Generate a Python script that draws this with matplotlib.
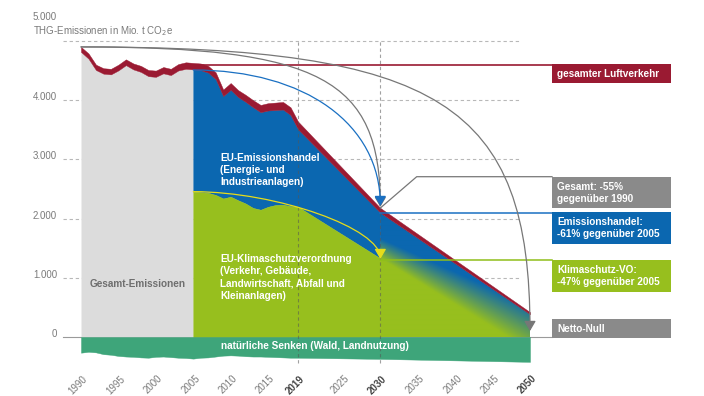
import numpy as np
import matplotlib.pyplot as plt
from matplotlib.patches import Polygon, Rectangle, FancyArrowPatch
from matplotlib.path import Path

plt.rcParams['font.family'] = ['Liberation Sans', 'DejaVu Sans']

# --- data (Mio. t CO2e) ---
years = list(range(1990, 2020))
total = [4900, 4790, 4600, 4540, 4530, 4600, 4690, 4620, 4580, 4510,
         4500, 4560, 4530, 4610, 4640, 4630, 4620, 4580, 4470, 4180,
         4290, 4170, 4090, 4000, 3920, 3950, 3960, 3970, 3880, 3640]
aviation = [85, 88, 90, 92, 94, 96, 98, 100, 102, 104,
            106, 106, 106, 108, 110, 110, 112, 114, 114, 110,
            114, 116, 118, 120, 122, 124, 126, 128, 130, 130]
esr_years = list(range(2005, 2020))
esr = [2455, 2445, 2435, 2400, 2340, 2370, 2310, 2255, 2180, 2150,
       2200, 2230, 2235, 2210, 2200]
sinks = [-265, -250, -260, -290, -300, -320, -330, -335, -345, -350,
         -335, -330, -340, -350, -355, -365, -350, -345, -330, -315,
         -310, -315, -325, -330, -330, -335, -340, -345, -350, -350]
target_years = [2030, 2050]
target_total = [2180, 420]
target_aviation = [80, 35]
target_esr = 1330
target_sinks = [-370, -420]

tick_years = [1990, 1995, 2000, 2005, 2010, 2015, 2019, 2025, 2030, 2035, 2040, 2045, 2050]
bold_years = [2019, 2030, 2050]
y_ticks = [0, 1000, 2000, 3000, 4000, 5000]

# colours
GREY_AREA = '#dcdcdc'
RED = '#9a1a32'
BLUE = '#0b67b0'
GREEN = '#97bf1e'
SINK = '#3ea57a'
BOX_GREY = '#8a8a8a'
LINE_GREY = '#777777'
TXT_GREY = '#7a7a7a'

# pixel calibration of the reference (1990 -> 81px, 2050 -> 530px, 0 -> 337px, 5000 -> 41px)
W, H = 704, 396
PX_YEAR = 449 / 60
PX_UNIT = 296 / 5000


def fx(x):
    return 1990 + (x - 81) / PX_YEAR


def fy(y):
    return (337 - y) / PX_UNIT


fig = plt.figure(figsize=(W / 100, H / 100), dpi=100)
ax = fig.add_axes([0, 0, 1, 1])
ax.set_xlim(fx(0), fx(W))
ax.set_ylim(fy(H), fy(0))
ax.axis('off')

all_years = np.array(years + target_years, dtype=float)
all_total = np.array(total + target_total, dtype=float)
all_avi = np.array(aviation + target_aviation, dtype=float)
all_sinks = np.array(sinks + target_sinks, dtype=float)
base_top = all_total - all_avi

BOX_X0, BOX_X1 = fx(552), fx(671)

# grid
for v in y_ticks[1:]:
    ax.plot([fx(63), fx(520)], [v, v], color='#b8b8b8', lw=0.8, ls=(0, (3, 2.5)), zorder=0)
ax.plot([fx(63), BOX_X0], [0, 0], color='#9a9a9a', lw=0.8, zorder=1)

# areas
i05 = years.index(2005)
ax.fill_between(all_years[:i05 + 1], 0, base_top[:i05 + 1], color=GREY_AREA, lw=0, zorder=2)

seg_x = np.array(esr_years + [2030], dtype=float)
seg_esr = np.array(esr + [target_esr], dtype=float)
seg_top = base_top[i05:i05 + len(seg_x)]
ax.fill_between(seg_x, seg_esr, seg_top, color=BLUE, lw=0.3, ec=BLUE, zorder=2)
ax.fill_between(seg_x, 0, seg_esr, color=GREEN, lw=0.3, ec=GREEN, zorder=2)

# gradient 2030 -> 2050, blue along the upper edge fading into green
t30, t50 = base_top[-2], base_top[-1]
gx = np.linspace(2030, 2050, 300)
gy = np.linspace(0, t30, 300)
GX, GY = np.meshgrid(gx, gy)
tt = (GX - 2030) / 20
depth = (np.interp(GX, [2030, 2050], [t30, t50]) - GY) * PX_UNIT  # px below upper edge
d0 = 26 - 35 * tt
wd = 20 + 25 * tt
s = np.clip(1 - (depth - d0) / wd, 0, 1)
c_blue = np.array([11, 103, 176]) / 255
c_green = np.array([151, 191, 30]) / 255
rgb = c_green[None, None, :] * (1 - s[..., None]) + c_blue[None, None, :] * s[..., None]
im = ax.imshow(rgb, extent=[2030, 2050, 0, t30], origin='lower', aspect='auto',
               interpolation='bilinear', zorder=2)
clip = Polygon([(2030, 0), (2030, t30), (2050, t50), (2050, 0)], closed=True,
               fc='none', ec='none', transform=ax.transData)
ax.add_patch(clip)
im.set_clip_path(clip)
ax.set_xlim(fx(0), fx(W))
ax.set_ylim(fy(H), fy(0))

ax.fill_between(all_years, base_top, all_total, color=RED, lw=0.3, ec=RED, zorder=3)
ax.fill_between(all_years, all_sinks, 0, color=SINK, lw=0.3, ec=SINK, zorder=3)

# vertical markers
for yr in [2019, 2030]:
    ax.plot([yr, yr], [fy(363), 5000], color='#555555', alpha=0.55, lw=0.8,
            ls=(0, (3, 2.5)), zorder=4)


def arc(x0, y0, x1, y1, k, color):
    verts = [(x0, y0), (x0 + k * (x1 - x0), y0), (x1, y1 + k * (y0 - y1)), (x1, y1)]
    p = Path(verts, [Path.MOVETO, Path.CURVE4, Path.CURVE4, Path.CURVE4])
    ax.add_patch(FancyArrowPatch(path=p, arrowstyle='-|>,head_length=0.6,head_width=0.35',
                                 mutation_scale=10, color=color, lw=0.9,
                                 shrinkA=0, shrinkB=0, zorder=6))


arc(1990, total[0], 2050, fy(331), 0.8, LINE_GREY)
arc(1990, total[0], 2030, fy(207), 0.8, LINE_GREY)
arc(2005, base_top[i05] - 10, 2030, fy(206), 0.6, '#1a70c2')
arc(2005, esr[0], 2030, fy(259), 0.45, '#e6dc1a')

# connectors to the boxes
ax.plot([2005, BOX_X0], [fy(64.5)] * 2, color=RED, lw=1.2, zorder=5)
ax.plot([2030, fx(416.7), BOX_X0], [fy(208), fy(176.7), fy(176.7)], color=LINE_GREY, lw=0.9, zorder=5)
ax.plot([2030, BOX_X0], [fy(212.5)] * 2, color='#1a70c2', lw=1.1, zorder=5)
ax.plot([2030, BOX_X0], [fy(259.5)] * 2, color='#8fbf1a', lw=1.1, zorder=5)

# boxes
boxes = [
    (64.3, 83.3, RED, 'gesamter Luftverkehr'),
    (176.7, 208.3, BOX_GREY, 'Gesamt: -55%\ngegenüber 1990'),
    (212.3, 244.3, BLUE, 'Emissionshandel:\n-61% gegenüber 2005'),
    (260, 291.5, GREEN, 'Klimaschutz-VO:\n-47% gegenüber 2005'),
    (319, 338, BOX_GREY, 'Netto-Null'),
]
for top, bot, col, label in boxes:
    ax.add_patch(Rectangle((BOX_X0, fy(bot)), BOX_X1 - BOX_X0, fy(top) - fy(bot),
                           fc=col, ec='none', zorder=5))
    ax.text(fx(557), fy((top + bot) / 2), label, color='white', fontsize=7.2,
            fontweight='bold', ha='left', va='center', linespacing=1.25, zorder=6)

# area labels
ax.text(fx(220), fy(170), 'EU-Emissionshandel\n(Energie- und\nIndustrieanlagen)',
        color='white', fontsize=7.2, fontweight='bold', ha='left', va='center',
        linespacing=1.3, zorder=6)
ax.text(fx(220), fy(277.5), 'EU-Klimaschutzverordnung\n(Verkehr, Gebäude,\nLandwirtschaft, Abfall und\nKleinanlagen)',
        color='white', fontsize=7.2, fontweight='bold', ha='left', va='center',
        linespacing=1.3, zorder=6)
ax.text(fx(138), fy(284), 'Gesamt-Emissionen', color='#6e6e6e', fontsize=7.2,
        fontweight='bold', ha='center', va='center', zorder=6)
ax.text(fx(221), fy(346), 'natürliche Senken (Wald, Landnutzung)', color='white',
        fontsize=7.2, fontweight='bold', ha='left', va='center', zorder=6)

# axis labels
for v in y_ticks:
    ypix = 17 if v == 5000 else 337 - v * PX_UNIT - 3
    ax.text(fx(57), fy(ypix), f'{v:,}'.replace(',', '.'), color=TXT_GREY, fontsize=7,
            ha='right', va='center')
ax.text(fx(33), fy(31.5), 'THG-Emissionen in Mio. t CO$_2$e', color=TXT_GREY,
        fontsize=7, ha='left', va='center')

for yr in tick_years:
    bold = yr in bold_years
    ax.text(yr + 5 / PX_YEAR, fy(377), str(yr), rotation=45, rotation_mode='anchor',
            ha='right', va='center', fontsize=7,
            color='#444444' if bold else TXT_GREY,
            fontweight='bold' if bold else 'normal')

fig.savefig('out.png', dpi=100)
